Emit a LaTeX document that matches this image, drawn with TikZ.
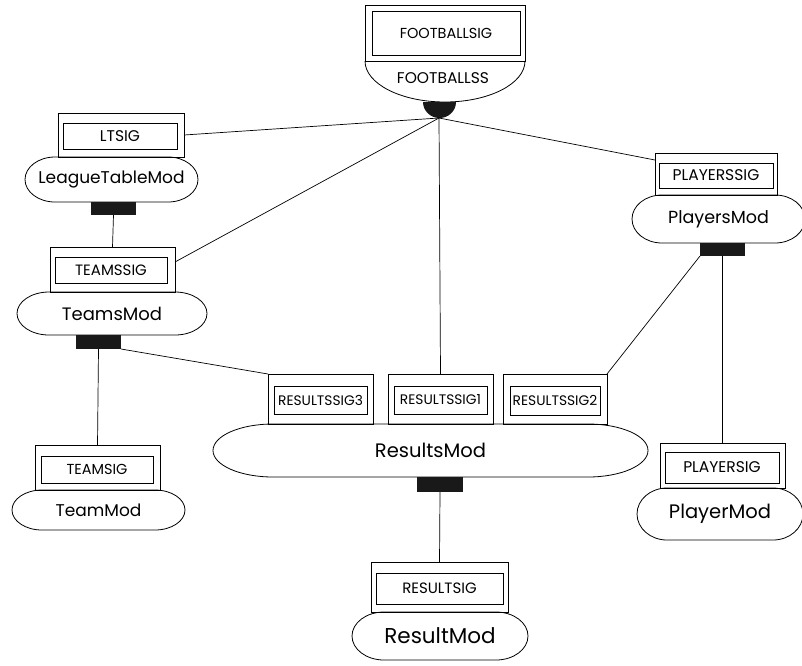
\documentclass[tikz,border=0pt]{standalone}
\usepackage{fontspec}
\setmainfont{Poppins}
\usetikzlibrary{calc}

% outline of a module: flat top and bottom with elliptical ends
\newcommand\modoutline[3]{%
  \draw[outl] ([xshift=#2]#1.north west) -- ([xshift=-#2]#1.north east)
    arc[start angle=90,end angle=-90,x radius=#2,y radius=#3]
    -- ([xshift=#2]#1.south west)
    arc[start angle=270,end angle=90,x radius=#2,y radius=#3] -- cycle;}
\newcommand\fs[1]{\fontsize{#1}{#1}\selectfont}

\begin{document}
\begin{tikzpicture}[x=1pt,y=-1pt,
  outl/.style={line width=0.8pt},
  sigouter/.style={draw, line width=0.8pt, inner sep=0pt, outer sep=0pt},
  siginner/.style={draw, line width=0.8pt, inner sep=0pt, outer sep=0pt, font=\fs{15}},
  rsiginner/.style={siginner, font=\fs{13.8}},
  modnode/.style={inner sep=0pt, outer sep=0pt, font=\fs{17}},
  plug/.style={fill=black!90, draw=none, inner sep=0pt, outer sep=0pt},
  link/.style={line width=0.7pt}]
\useasboundingbox (0,0) rectangle (802,665);

% ---------- FOOTBALL structure ----------
\node[sigouter, minimum width=160pt, minimum height=56pt] (footballbox) at (445,33) {};
\node[siginner, font=\fs{14.5}, minimum width=148pt, minimum height=44pt] (footballsig) at (446,33) {FOOTBALLSIG};
\draw[outl] (footballbox.south west) arc[start angle=180,end angle=360,x radius=80pt,y radius=41pt];
\node[inner sep=0pt, font=\fs{15.5}] (footballss) at (443,78) {FOOTBALLSS};
\fill[black!90] (423,102) arc[start angle=180,end angle=360,x radius=16.5pt,y radius=16pt] -- cycle;
\coordinate (hub) at (439,118);

% ---------- modules ----------
\node[modnode, minimum width=173pt, minimum height=45pt] (ltmod) at (111.5,179.5) {LeagueTableMod};
\modoutline{ltmod}{30pt}{22.5pt}
\node[modnode, font=\fs{18}, minimum width=190pt, minimum height=43pt] (teamsmod) at (112,313.5) {TeamsMod};
\modoutline{teamsmod}{32pt}{21.5pt}
\node[modnode, minimum width=173pt, minimum height=40pt] (teammod) at (98.5,510) {TeamMod};
\modoutline{teammod}{30pt}{20pt}
\node[modnode, font=\fs{17.5}, minimum width=173pt, minimum height=48pt] (playersmod) at (718.5,219) {PlayersMod};
\modoutline{playersmod}{30pt}{24pt}
\node[modnode, font=\fs{19.5}, minimum width=166pt, minimum height=52pt] (playermod) at (720,514) {PlayerMod};
\modoutline{playermod}{30pt}{26pt}
\node[modnode, font=\fs{19.5}, minimum width=435pt, minimum height=53pt] (resultsmod) at (430.5,450.5) {ResultsMod};
\modoutline{resultsmod}{60pt}{26.5pt}
\node[modnode, font=\fs{21.5}, minimum width=176pt, minimum height=48pt] (resultmod) at (440,636) {ResultMod};
\modoutline{resultmod}{32pt}{24pt}

% ---------- signatures ----------
\node[sigouter, minimum width=126pt, minimum height=44pt] (ltsigbox) at (121,135) {};
\node[siginner, font=\fs{15.5}, minimum width=114pt, minimum height=26pt] (ltsig) at (120,136) {LTSIG};
\node[sigouter, minimum width=125pt, minimum height=45pt] (teamssigbox) at (112.5,269.5) {};
\node[siginner, minimum width=112pt, minimum height=26pt] (teamssig) at (111,270) {TEAMSSIG};
\node[sigouter, minimum width=125pt, minimum height=45pt] (teamsigbox) at (97.5,467.5) {};
\node[siginner, font=\fs{14.5}, minimum width=112pt, minimum height=27pt] (teamsig) at (97,469.5) {TEAMSIG};
\node[sigouter, minimum width=122pt, minimum height=42pt] (playerssigbox) at (716,174) {};
\node[siginner, font=\fs{15.5}, minimum width=114pt, minimum height=25pt] (playerssig) at (716,175.5) {PLAYERSSIG};
\node[sigouter, minimum width=125pt, minimum height=45pt] (playersigbox) at (722.5,465.5) {};
\node[siginner, font=\fs{15.5}, minimum width=114pt, minimum height=31pt] (playersig) at (722,467.5) {PLAYERSIG};
\node[sigouter, minimum width=105pt, minimum height=50pt] (rsig3box) at (320.5,399) {};
\node[rsiginner, minimum width=93pt, minimum height=28pt] (rsig3) at (320.5,400) {RESULTSSIG3};
\node[sigouter, minimum width=105pt, minimum height=50pt] (rsig1box) at (440.5,399) {};
\node[rsiginner, minimum width=93pt, minimum height=28pt] (rsig1) at (440.5,400) {RESULTSSIG1};
\node[sigouter, minimum width=104pt, minimum height=50pt] (rsig2box) at (555,399) {};
\node[rsiginner, minimum width=90pt, minimum height=29pt] (rsig2) at (555,400.5) {RESULTSSIG2};
\node[sigouter, minimum width=137pt, minimum height=50pt] (resultsigbox) at (439.5,587) {};
\node[siginner, minimum width=127pt, minimum height=31pt] (resultsig) at (439.5,588.5) {RESULTSIG};

% ---------- plugs ----------
\node[plug, minimum width=45pt, minimum height=13pt] (ltplug) at (113.5,208.5) {};
\node[plug, minimum width=45pt, minimum height=14pt] (teamsplug) at (98.5,342) {};
\node[plug, minimum width=45pt, minimum height=13pt] (playersplug) at (722.5,249.5) {};
\node[plug, minimum width=46pt, minimum height=15pt] (resultsplug) at (440,484.5) {};

% ---------- connectors ----------
\draw[link] (hub) -- (ltsigbox.east);
\draw[link] (hub) -- ($(teamssigbox.north east)+(0,15)$);
\draw[link] (hub) -- (rsig1box.north);
\draw[link] (hub) -- ($(playerssigbox.north west)+(0,7)$);
\draw[link] (ltplug.south) -- (teamssigbox.north);
\draw[link] (teamsplug.south east) -- (rsig3box.north west);
\draw[link] (teamsplug.south) -- (teamsigbox.north);
\draw[link] (playersplug.south west) -- (rsig2box.north east);
\draw[link] (playersplug.south) -- (playersigbox.north);
\draw[link] (resultsplug.south) -- (resultsigbox.north);
\end{tikzpicture}
\end{document}
